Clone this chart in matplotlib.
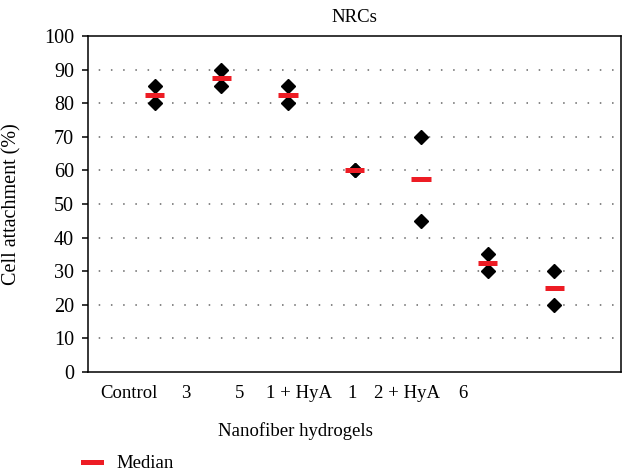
import numpy as np
import matplotlib
matplotlib.use("Agg")
import matplotlib.pyplot as plt
from matplotlib.lines import Line2D

# data
groups = ["Control", "3", "5", "1 + HyA", "1", "2 + HyA", "6"]
rep_a = [85, 90, 85, 60, 70, 35, 30]
rep_b = [80, 85, 80, 60, 45, 30, 20]
medians = [82.5, 87.5, 82.5, 60, 57.5, 32.5, 25]

# the tick labels in the original sit left of the points
label_pos = [-0.38, 0.46, 1.28, 2.17, 2.96, 3.79, 4.62]

RED = "#ED1C24"

plt.rcParams["font.family"] = ["Liberation Serif", "DejaVu Serif"]

fig = plt.figure(figsize=(6.26, 4.73), dpi=100)
ax = fig.add_axes([0.1406, 0.2135, 0.992 - 0.1406, 0.9239 - 0.2135])

x = np.arange(len(groups))

# dotted gridlines
ax.hlines(np.arange(10, 100, 10), -1, 7, colors="#666666", lw=1.1,
          linestyles=(1, (1, 7)), zorder=1)

ax.plot(x, rep_a, "D", color="black", ms=7.5, zorder=3)
ax.plot(x, rep_b, "D", color="black", ms=7.5, zorder=3)
ax.hlines(medians, x - 0.145, x + 0.145, colors=RED, lw=3.6, zorder=4)

ax.set_xlim(-1, 7)
ax.set_ylim(0, 100)
ax.set_yticks(np.arange(0, 101, 10))
ax.set_xticks(label_pos)
ax.set_xticklabels(groups)
ax.tick_params(axis="x", length=0, pad=9, labelsize=13.5)
ax.tick_params(axis="y", direction="out", length=4, width=1.1, pad=6, labelsize=14.5)
for s in ax.spines.values():
    s.set_linewidth(1.1)

ax.set_title("NRCs", fontsize=13.5, pad=10)
ax.set_ylabel("Cell attachment (%)", fontsize=14.5)
ax.yaxis.set_label_coords(-0.125, 0.5)
ax.set_xlabel("Nanofiber hydrogels", fontsize=13.5)
ax.xaxis.set_label_coords(0.39, -0.15)

med_handle = Line2D([], [], color=RED, lw=3.6)
fig.legend([med_handle], ["Median"], loc="center left",
           bbox_to_anchor=(0.105, 0.02), frameon=False, fontsize=13.5,
           handlelength=1.0, handletextpad=0.8)

fig.savefig("out.png", dpi=100)
